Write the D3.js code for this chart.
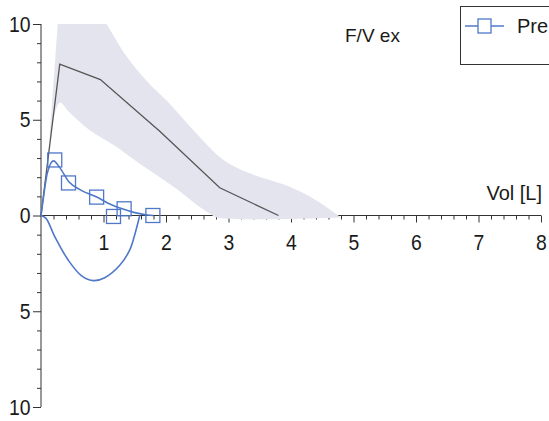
<!DOCTYPE html>
<html>
<head>
<meta charset="utf-8">
<script src="https://cdn.jsdelivr.net/npm/d3@7"></script>
<style>
  html, body { margin: 0; padding: 0; background: #fff; }
  svg { display: block; }
  text { font-family: "Liberation Sans", Arial, Helvetica, sans-serif; fill: #1a1a1a; }
</style>
</head>
<body>
<svg id="chart" width="549" height="421"></svg>
<script>
// Flow/volume loop: predicted expiratory band + mean, and the measured "Pre" loop.
const xTicksMajor = [1, 2, 3, 4, 5, 6, 7, 8];
const yTicksMajor = [-10, -5, 0, 5, 10];

// predicted expiratory flow (mean) [volume L, flow L/s]
const predMean = [[0, 0], [0.3, 7.9], [0.95, 7.1], [1.9, 4.4], [2.86, 1.45], [3.8, 0]];
// predicted range, upper edge (left to right) and lower edge (right to left);
// the closing segment from the lower edge's end back to the upper edge's start is straight
const bandUpper = [[0.29, 11.0], [0.6, 11.6], [0.98, 10.3], [1.37, 8.3],
                   [1.7, 7.0], [2.01, 6.0], [2.54, 4.1], [2.92, 2.9], [3.34, 2.2], [3.98, 1.5],
                   [4.4, 0.8], [4.8, -0.1]];
const bandLower = [[4.8, -0.1], [2.81, -0.1], [2.7, 0.1], [2.54, 0.45], [2.12, 1.5], [1.58, 2.7],
                   [1.2, 3.6], [0.78, 4.45], [0.45, 5.4], [0.3, 5.9], [0.13, 3.8]];

// measured "Pre" loop: expiratory limb (up) and inspiratory limb (down)
const preExp = [[0, 0], [0.05, 1.2], [0.1, 2.2], [0.2, 2.85], [0.3, 2.5], [0.45, 1.75],
                [0.65, 1.3], [0.9, 0.95], [1.1, 0.6], [1.3, 0.35], [1.5, 0.15], [1.7, 0.03], [1.8, 0]];
const preInsp = [[0, 0], [0.08, -0.15], [0.22, -1.1], [0.44, -2.35], [0.65, -3.15], [0.84, -3.4],
                 [1.02, -3.25], [1.26, -2.6], [1.42, -1.8], [1.5, -1.0], [1.58, 0]];
const prePoints = [[0.22, 2.9], [0.44, 1.7], [0.89, 0.96], [1.16, -0.05], [1.33, 0.35], [1.79, 0]];

const blue = "#4f78c9";
const svg = d3.select("#chart");

const x = d3.scaleLinear().domain([0, 8]).range([41, 541]);
const y = d3.scaleLinear().domain([-10, 10]).range([407, 24]);

svg.append("defs").append("clipPath").attr("id", "plot")
  .append("rect").attr("x", x(0)).attr("y", y(10)).attr("width", x(8) - x(0)).attr("height", y(-10) - y(10));

// x axis (ticks below the zero line)
const xMinor = d3.range(0, 40).map(i => (i + 1) / 5).filter(v => Math.abs(v - Math.round(v)) > 1e-6);
const xAxisG = svg.append("g").attr("transform", `translate(0,${y(0)})`);
xAxisG.append("g")
  .call(d3.axisBottom(x).tickValues(xMinor).tickSize(4).tickFormat(""))
  .call(g => g.select(".domain").remove());
xAxisG.append("g")
  .call(d3.axisBottom(x).tickValues(xTicksMajor).tickSize(7).tickPadding(12).tickFormat(d3.format("d")))
  .call(g => g.select(".domain").attr("d", `M${x(0)},0H${x(8)}`));
xAxisG.selectAll("line, path").attr("stroke", "#333").attr("stroke-width", 1);
xAxisG.selectAll("text").attr("font-size", 22).attr("fill", "#1a1a1a")
  .attr("transform", "scale(0.88,1)");

// y axis (ticks to the left), labels show magnitude
const yMinor = d3.range(-10, 11).filter(v => v % 5 !== 0);
const yAxisG = svg.append("g").attr("transform", `translate(${x(0)},0)`);
yAxisG.append("g")
  .call(d3.axisLeft(y).tickValues(yMinor).tickSize(4).tickFormat(""))
  .call(g => g.select(".domain").remove());
yAxisG.append("g")
  .call(d3.axisLeft(y).tickValues(yTicksMajor).tickSize(8).tickPadding(4).tickFormat(d => Math.abs(d)))
  .call(g => g.select(".domain").attr("d", `M0,${y(10)}V${y(-10)}`));
yAxisG.selectAll("line, path").attr("stroke", "#333").attr("stroke-width", 1);
yAxisG.selectAll("text").attr("font-size", 22).attr("fill", "#1a1a1a")
  .attr("transform", "scale(0.88,1)");

const line = d3.line().x(d => x(d[0])).y(d => y(d[1]));
const soft = d3.line().x(d => x(d[0])).y(d => y(d[1])).curve(d3.curveCatmullRom.alpha(0.5));

// predicted range band, clipped to the plot frame
const bandPath = soft(bandUpper) + soft(bandLower).replace(/^M/, "L") + "Z";
svg.append("path")
  .attr("d", bandPath)
  .attr("clip-path", "url(#plot)")
  .attr("fill", "#e4e4ee")
  .attr("stroke", "none");

// predicted mean
svg.append("path")
  .attr("d", line(predMean))
  .attr("fill", "none")
  .attr("stroke", "#555")
  .attr("stroke-width", 1.3);

// measured loop
svg.append("path").attr("d", line.curve(d3.curveMonotoneX)(preExp))
  .attr("fill", "none").attr("stroke", blue).attr("stroke-width", 1.6);
svg.append("path").attr("d", soft(preInsp))
  .attr("fill", "none").attr("stroke", blue).attr("stroke-width", 1.6);

const sq = 14;
svg.append("g").selectAll("rect").data(prePoints).join("rect")
  .attr("x", d => x(d[0]) - sq / 2)
  .attr("y", d => y(d[1]) - sq / 2)
  .attr("width", sq).attr("height", sq)
  .attr("fill", "none").attr("stroke", blue).attr("stroke-width", 1.3);

// labels
svg.append("text").attr("x", 345).attr("y", 42).attr("font-size", 19).text("F/V ex");
svg.append("text").attr("x", 542).attr("y", 200).attr("font-size", 20)
  .attr("text-anchor", "end").text("Vol [L]");

// legend
const lg = svg.append("g");
lg.append("rect").attr("x", 460.5).attr("y", 6.5).attr("width", 120).attr("height", 58)
  .attr("fill", "#fff").attr("stroke", "#333").attr("stroke-width", 1);
lg.append("line").attr("x1", 465).attr("x2", 504).attr("y1", 26).attr("y2", 26)
  .attr("stroke", blue).attr("stroke-width", 1.3);
lg.append("rect").attr("x", 478).attr("y", 19).attr("width", 13).attr("height", 14)
  .attr("fill", "#fff").attr("stroke", blue).attr("stroke-width", 1.3);
lg.append("text").attr("x", 517).attr("y", 33).attr("font-size", 20).text("Pre");
</script>
</body>
</html>
